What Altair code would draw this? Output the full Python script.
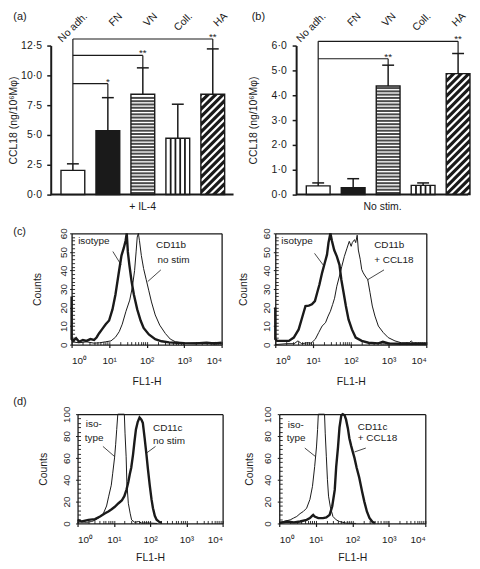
import altair as alt
import numpy as np
import pandas as pd

FONT = "Liberation Sans"
INK = "#1a1a1a"

# ---------------- panels (a) and (b): CCL18 (ng/10^6 Mphi) ----------------
categories = ["No adh.", "FN", "VN", "Coll.", "HA"]
a_mean = [2.03, 5.36, 8.42, 4.72, 8.42]
a_top = [2.58, 8.13, 10.63, 7.58, 12.22]      # top of error bar
b_mean = [0.35, 0.28, 4.37, 0.37, 4.87]
b_top = [0.47, 0.64, 5.21, 0.47, 5.68]
a_sig_to = [1, 2, 4]
a_sig_at = [9.3, 11.67, 13.05]
a_sig_txt = ["*", "**", "**"]
b_sig_to = [2, 4]
b_sig_at = [5.47, 6.17]
b_sig_txt = ["**", "**"]
a_ticks = [0, 2.5, 5, 7.5, 10, 12.5]
b_ticks = [0, 1, 2, 3, 4, 5, 6]

# ---------------- panels (c) and (d): flow cytometry histograms ----------------
# x = log10(FL1-H), y = counts
cL_iso_x = [0.0, 0.0, 0.04, 0.12, 0.2, 0.3, 0.4, 0.5, 0.6, 0.67, 0.73, 0.82, 0.91, 1.0, 1.09, 1.17, 1.26, 1.33,
            1.39, 1.44, 1.47, 1.50, 1.54, 1.60, 1.66, 1.75, 1.84, 1.92, 2.06, 2.23, 2.40, 2.6, 2.8, 3.0, 3.3,
            3.6, 3.8, 4.0]
cL_iso_y = [26, 3, 2, 3.5, 1.5, 2.5, 2, 3, 2.5, 4, 6, 8.5, 11, 13, 19, 27, 39, 48, 52, 56, 60, 50, 43, 34, 27,
            19, 13, 9, 5.5, 2.9, 1.8, 1.2, 1, 0.8, 0.7, 1, 0.6, 1]
cL_ab_x = [0.0, 0.2, 0.4, 0.6, 0.75, 0.9, 1.05, 1.17, 1.27, 1.35, 1.45, 1.55, 1.62, 1.68, 1.72, 1.75, 1.78,
           1.81, 1.86, 1.92, 1.99, 2.06, 2.13, 2.23, 2.35, 2.50, 2.63, 2.77, 3.0, 3.3, 3.6, 3.85, 4.0]
cL_ab_y = [1.5, 1, 1.5, 0.8, 1, 1.5, 2, 4, 7, 11, 18, 24, 31, 40, 50, 58, 60, 56, 48, 41, 35, 29, 23, 16, 10.5,
           6, 3, 1.5, 0.7, 1, 0.8, 1.2, 0.8]

cR_iso_x = [0.0, 0.0, 0.05, 0.19, 0.36, 0.49, 0.62, 0.71, 0.76, 0.80, 0.89, 0.97, 1.05, 1.11, 1.17, 1.24, 1.31,
            1.37, 1.41, 1.46, 1.50, 1.56, 1.63, 1.70, 1.75, 1.81, 1.87, 1.94, 2.03, 2.13, 2.29, 2.47, 2.73,
            2.85, 3.0, 3.34, 3.7, 4.0]
cR_iso_y = [20, 3, 2, 2, 2, 3.8, 8.2, 14.5, 18, 20.8, 21, 21.7, 23.5, 28, 32.4, 38.7, 44, 48.5, 55, 60, 56, 51,
            47.6, 43, 35, 28, 20.8, 13.6, 8.2, 3.8, 2, 1, 0.7, 1.5, 0.6, 0.5, 0.5, 0.5]
cR_ab_x = [0.0, 0.3, 0.5, 0.6, 0.7, 0.85, 0.95, 1.06, 1.15, 1.24, 1.33, 1.40, 1.46, 1.52, 1.57, 1.63, 1.70,
           1.76, 1.83, 1.90, 1.96, 2.01, 2.04, 2.10, 2.13, 2.17, 2.20, 2.25, 2.29, 2.33, 2.38, 2.45, 2.51,
           2.57, 2.64, 2.73, 2.86, 2.99, 3.17, 3.34, 3.55, 3.6, 3.65, 4.0]
cR_ab_y = [0, 0.5, 0.5, 2, 0.5, 1, 0.8, 2.9, 6.5, 10, 11.8, 15.4, 18, 21.7, 25, 31.5, 37, 42, 47.6, 52, 55.7,
           53, 55, 56.6, 55, 59, 51, 46, 40.5, 38.7, 37, 35, 28, 20.8, 15.4, 10, 6.5, 3.8, 2, 1, 1, 2, 1, 0.8]

dL_iso_x = [0.0, 0.12, 0.25, 0.39, 0.48, 0.58, 0.71, 0.80, 0.86, 0.93, 0.97, 1.02, 1.05, 1.08, 1.11, 1.29, 1.31,
            1.34, 1.36, 1.40, 1.45, 1.49, 1.58, 1.68, 1.77, 1.9, 2.2]
dL_iso_y = [1, 1.5, 1, 1.8, 3, 5, 9, 16, 25, 35, 46, 60, 72, 86, 100, 100, 82, 61, 37, 18.5, 9.4, 3.3, 1, 1.8,
            0.3, 0.5, 0]
dL_ab_x = [0.0, 0.12, 0.30, 0.48, 0.62, 0.76, 0.85, 0.94, 1.02, 1.13, 1.22, 1.29, 1.35, 1.40, 1.44, 1.48, 1.53,
           1.57, 1.61, 1.66, 1.71, 1.76, 1.80, 1.85, 1.90, 1.94, 1.99, 2.04, 2.08, 2.13, 2.18, 2.25, 2.32]
dL_ab_y = [3.3, 1.8, 3.3, 4, 6.4, 9.4, 11, 13, 15, 18.5, 21, 25, 31, 38, 45, 51, 63, 75, 86, 93, 97, 95, 92, 78,
           63, 50, 35, 22, 14, 7, 3.5, 1.5, 0.5]

dR_iso_x = [0.0, 0.12, 0.30, 0.39, 0.48, 0.57, 0.66, 0.75, 0.84, 0.91, 0.97, 1.02, 1.05, 1.07, 1.24, 1.26, 1.29,
            1.32, 1.35, 1.40, 1.47, 1.56, 1.65, 1.83, 2.1]
dR_iso_y = [1, 1.8, 3.3, 4.9, 6.4, 9, 11, 14, 22, 34, 52, 70, 86, 100, 100, 82, 61, 40, 25, 15, 6.4, 3.3, 1.8,
            0.3, 0]
dR_ab_x = [0.0, 0.21, 0.40, 0.57, 0.75, 0.84, 0.90, 0.93, 0.97, 1.07, 1.20, 1.29, 1.38, 1.45, 1.52, 1.56, 1.61,
           1.65, 1.70, 1.74, 1.79, 1.83, 1.88, 1.92, 1.97, 2.01, 2.06, 2.12, 2.19, 2.27, 2.33, 2.40, 2.47,
           2.55, 2.62]
dR_ab_y = [0.3, 1.8, 1, 1.8, 3.3, 4.9, 7, 7.9, 6.4, 4.9, 4.9, 5.5, 7.9, 15.5, 30.7, 52, 70, 88, 99, 100, 99, 95,
           87, 78, 71, 66, 60, 51, 42, 29, 20, 11, 5, 1.5, 0.3]

# annotation texts (label, log10 FL1-H, counts) and pointer lines
cL_notes = [("isotype", 0.175, 55.9), ("CD11b", 2.25, 53.7), ("no stim", 2.29, 45.6)]
cL_ptrs = [(1.10, 50.2, 1.32, 43.0), (2.38, 40.3, 2.03, 34.0)]
cR_notes = [("isotype", 0.158, 55.9), ("CD11b", 2.62, 53.7), ("+ CCL18", 2.62, 45.6)]
cR_ptrs = [(1.04, 49.2, 1.30, 42.1), (2.88, 40.3, 2.44, 34.9)]
dL_notes = [("iso-", 0.228, 90.9), ("type", 0.20, 78.1), ("CD11c", 2.08, 87.2), ("no stim", 2.08, 75.0)]
dL_ptrs = [(0.70, 70.5, 1.02, 61.3), (2.15, 70.5, 1.90, 64.4)]
dR_notes = [("iso-", 0.233, 90.2), ("type", 0.206, 78.1), ("CD11c", 2.15, 88.7), ("+ CCL18", 2.15, 78.1)]
dR_ptrs = [(0.70, 69.0, 0.99, 61.3), (2.37, 69.0, 2.06, 65.4)]

PITCH = 35.2   # px per category slot
HALF = 0.34    # bar half width (category units)
CAP = 0.17


def extent_rule(top, bottom):
    # invisible vertical rule that fixes the row's vertical extent for the layout
    return alt.Chart(pd.DataFrame({"z": [0]})).mark_rule(opacity=0, strokeWidth=0).encode(
        x=alt.value(0), y=alt.value(-top), y2=alt.value(bottom))


def bar_panel(mean, top, sig_to, sig_at, sig_txt, ticks, ymax, W, H, first_px, xtitle,
              plabel, plabel_dx, ytitle_pad, lab_pad, lab_dx, extent=None):
    x_lo = -first_px / PITCH
    x_hi = (W - first_px) / PITCH
    ppx = PITCH
    ppy = H / ymax
    xs = alt.Scale(domain=[x_lo, x_hi], nice=False, zero=False)
    ys = alt.Scale(domain=[0, ymax], nice=False)
    xax = alt.Axis(title=xtitle, labels=False, ticks=False, grid=False, domain=False,
                   minExtent=0, maxExtent=0, titlePadding=7, titleFontSize=10.5,
                   titleFontWeight="normal", titleColor=INK)
    yax = alt.Axis(title="CCL18 (ng/10⁶Mφ)", values=ticks,
                   labelExpr="replace(format(datum.value, '.1f'), '.', '·')",
                   grid=False, domainColor=INK, domainWidth=2, tickColor=INK, tickWidth=1.5, tickSize=4,
                   labelPadding=lab_pad, labelFontSize=10.5, labelColor=INK, minExtent=30, maxExtent=30,
                   titlePadding=ytitle_pad, titleFontSize=10.5, titleFontWeight="normal", titleColor=INK)

    def X(f):
        return alt.X(f, type="quantitative", scale=xs, axis=xax)

    def Y(f):
        return alt.Y(f, type="quantitative", scale=ys, axis=yax)

    n = len(categories)
    df = pd.DataFrame({"pos": list(range(n)), "cat": categories, "mean": mean, "top": top})
    df["left"] = df["pos"] - HALF
    df["right"] = df["pos"] + HALF
    df["base"] = 0.0
    df["cap1"] = df["pos"] - CAP
    df["cap2"] = df["pos"] + CAP

    fills = ["white", INK, "white", "white", INK]
    bars = alt.Chart(df).mark_rect(strokeWidth=0).encode(
        x=X("left"), x2="right", y=Y("base"), y2="mean",
        color=alt.Color("cat:N", scale=alt.Scale(domain=categories, range=fills), legend=None))

    k = categories.index("VN")
    hpx = mean[k] * ppy
    yy = np.arange(1.6, hpx - 0.8, 3.3) / ppy
    vn = pd.DataFrame({"y": yy, "l": k - HALF, "r": k + HALF})
    vn_l = alt.Chart(vn).mark_rule(color="#4a4a4a", strokeWidth=2).encode(x=X("l"), x2="r", y=Y("y"))

    k = categories.index("Coll.")
    wpx = 2 * HALF * ppx
    cx = [k - HALF + wpx * j / 5 / ppx for j in range(1, 5)]
    co = pd.DataFrame({"x": cx, "b": 0.0, "t": mean[k]})
    co_l = alt.Chart(co).mark_rule(color=INK, strokeWidth=1.8).encode(x=X("x"), y=Y("b"), y2="t")

    k = categories.index("HA")
    h = mean[k] * ppy
    p = 7.6
    segs = []
    c = -h + p / 2
    while c < wpx:
        x0 = max(0.0, c)
        x1 = min(wpx, h + c)
        if x1 > x0:
            segs.append((k - HALF + x0 / ppx, (x0 - c) / ppy, k - HALF + x1 / ppx, (x1 - c) / ppy))
        c += p
    ha = pd.DataFrame(segs, columns=["xa", "ya", "xb", "yb"])
    ha_l = alt.Chart(ha).mark_rule(color="white", strokeWidth=2.2).encode(
        x=X("xa"), x2="xb", y=Y("ya"), y2="yb")

    outline = alt.Chart(df).mark_rect(fillOpacity=0, stroke=INK, strokeWidth=1.4).encode(
        x=X("left"), x2="right", y=Y("base"), y2="mean")
    err = alt.Chart(df).mark_rule(color=INK, strokeWidth=1.5).encode(x=X("pos"), y=Y("mean"), y2="top")
    caps = alt.Chart(df).mark_rule(color=INK, strokeWidth=1.5).encode(x=X("cap1"), x2="cap2", y=Y("top"))

    bs = [(0, top[0], 0, max(sig_at))]
    for t, lv in zip(sig_to, sig_at):
        bs.append((0, lv, t, lv))
        bs.append((t, lv, t, top[t]))
    br = pd.DataFrame(bs, columns=["xa", "ya", "xb", "yb"])
    br_l = alt.Chart(br).mark_rule(color=INK, strokeWidth=1.2).encode(x=X("xa"), x2="xb", y=Y("ya"), y2="yb")
    st = pd.DataFrame({"x": sig_to, "y": sig_at, "s": sig_txt})
    st_l = alt.Chart(st).mark_text(fontSize=10, baseline="alphabetic", color=INK, yOffset=1).encode(
        x=X("x"), y=Y("y"), text="s:N")

    bl = pd.DataFrame({"xa": [x_lo], "xb": [x_hi], "y": [0.0]})
    base_line = alt.Chart(bl).mark_rule(color=INK, strokeWidth=2).encode(x=X("xa"), x2="xb", y=Y("y"))

    lab = alt.Chart(df).mark_text(angle=315, align="right", baseline="middle", fontSize=10.5, color=INK,
                                  xOffset=lab_dx).encode(x=X("pos"), y=alt.value(-31), text="cat:N")
    pl = alt.Chart(pd.DataFrame({"t": [plabel]})).mark_text(align="left", baseline="top", fontSize=11,
                                                           color=INK).encode(
        x=alt.value(plabel_dx), y=alt.value(-34.5), text="t:N")

    layers = [bars, vn_l, co_l, ha_l, outline, err, caps, br_l, st_l, base_line, lab, pl]
    if extent:
        layers.append(extent_rule(*extent))
    return alt.layer(*layers).properties(width=W, height=H)


def hist_panel(thick_x, thick_y, thin_x, thin_y, ymax, yvals, ystep, W, H, ylab_pad, ytitle_pad,
               xtitle_pad, notes, ptrs, plabel=None, plabel_xy=(0, 0), extent=None):
    xs = alt.Scale(domain=[0, 4], nice=False, zero=False)
    ys = alt.Scale(domain=[0, ymax], nice=False)
    xax = alt.Axis(orient="bottom", title="FL1-H", values=[0, 1, 2, 3, 4],
                   labelExpr="'10' + ['⁰','¹','²','³','⁴'][datum.value]",
                   grid=False, domain=True, domainColor=INK, domainWidth=1.3,
                   tickSize=3, tickColor=INK, tickWidth=1.2, labelPadding=8.5,
                   labelFontSize=10, labelColor=INK, minExtent=23, maxExtent=23, titlePadding=xtitle_pad,
                   titleFontSize=10.5, titleFontWeight="normal", titleColor=INK)
    yax = alt.Axis(orient="left", title="Counts", values=yvals, grid=False, domain=True, domainColor=INK,
                   domainWidth=1.3, tickSize=2, tickColor=INK,
                   labelAngle=270, labelAlign="center", labelBaseline="bottom", labelPadding=ylab_pad,
                   labelFontSize=10, labelColor=INK, minExtent=14, maxExtent=14, titlePadding=ytitle_pad,
                   titleFontSize=10.5, titleFontWeight="normal", titleColor=INK)
    # frame: top and right edges
    top_ax = alt.Axis(orient="top", title=None, labels=False, ticks=False, grid=False, domain=True,
                      domainColor=INK, domainWidth=1.3)
    right_ax = alt.Axis(orient="right", title=None, labels=False, ticks=False, grid=False, domain=True,
                        domainColor=INK, domainWidth=1.3)
    # inward tick marks (axes shifted into the plot by their tick length)
    minor_vals = [float(np.log10(m) + k) for k in range(4) for m in range(1, 10)] + [4.0]
    xin_ax = alt.Axis(orient="bottom", title=None, labels=False, domain=False, grid=False, values=minor_vals,
                      tickSize=3, tickColor=INK, tickWidth=0.9, offset=-3)
    yin_vals = [float(v) for v in np.arange(ystep, ymax, ystep)]
    yin_ax = alt.Axis(orient="left", title=None, labels=False, domain=False, grid=False, values=yin_vals,
                      tickSize=3, tickColor=INK, tickWidth=0.9, offset=-3)

    def X(f, ax=None):
        return alt.X(f, type="quantitative", scale=xs, axis=ax)

    def Y(f, ax=None):
        return alt.Y(f, type="quantitative", scale=ys, axis=ax)

    d_thin = pd.DataFrame({"lx": thin_x, "cnt": thin_y, "o": list(range(len(thin_x)))})
    d_thick = pd.DataFrame({"lx": thick_x, "cnt": thick_y, "o": list(range(len(thick_x)))})
    thin = alt.Chart(d_thin).mark_line(color=INK, strokeWidth=1.0).encode(
        x=X("lx", xax), y=Y("cnt", yax), order="o:Q")
    thick = alt.Chart(d_thick).mark_line(color=INK, strokeWidth=2.4).encode(
        x=X("lx"), y=Y("cnt"), order="o:Q")
    frame_l = alt.Chart(d_thin).mark_point(opacity=0).encode(x=X("lx", top_ax), y=Y("cnt", right_ax))
    xin_l = alt.Chart(d_thin).mark_point(opacity=0).encode(x=X("lx", xin_ax), y=Y("cnt", yin_ax))
    nd = pd.DataFrame(notes, columns=["s", "x", "y"])
    note_l = alt.Chart(nd).mark_text(align="left", baseline="middle", fontSize=10, color=INK).encode(
        x=X("x"), y=Y("y"), text="s:N")
    pdf = pd.DataFrame(ptrs, columns=["xa", "ya", "xb", "yb"])
    ptr_l = alt.Chart(pdf).mark_rule(color=INK, strokeWidth=0.8).encode(
        x=X("xa"), x2="xb", y=Y("ya"), y2="yb")
    layers = [thin, thick, frame_l, xin_l, note_l, ptr_l]
    if plabel:
        layers.append(alt.Chart(pd.DataFrame({"t": [plabel]})).mark_text(
            align="left", baseline="middle", fontSize=11, color=INK).encode(
            x=alt.value(plabel_xy[0]), y=alt.value(plabel_xy[1]), text="t:N"))
    if extent:
        layers.append(extent_rule(*extent))
    return alt.layer(*layers).resolve_axis(x="independent", y="independent").properties(width=W, height=H)


def spacer(w, h):
    return alt.Chart(pd.DataFrame({"z": [0]})).mark_rule(opacity=0, strokeWidth=0).encode(
        x=alt.value(0), x2=alt.value(0), y=alt.value(0), y2=alt.value(0)).properties(width=w, height=h)


# row 1: plots start at page x 51 and 298
pa = bar_panel(a_mean, a_top, a_sig_to, a_sig_at, a_sig_txt, a_ticks, 12.5, 184, 150, 22.3, "+ IL-4",
               "(a)", -37.7, 2.2, 5.3, 13, extent=(35.5, 168))
pb = bar_panel(b_mean, b_top, b_sig_to, b_sig_at, b_sig_txt, b_ticks, 6.0, 173, 150, 22.2, "No stim.",
               "(b)", -44.7, 7.8, 6, 6)
# row 2: frames at page x 72 and 277
pcl = hist_panel(cL_iso_x, cL_iso_y, cL_ab_x, cL_ab_y, 60, [0, 10, 20, 30, 40, 50, 60], 2, 151, 112,
                 1.2, 15.5, 8.7, cL_notes, cL_ptrs, "(c)", (-58.7, -1.4), extent=(21, 158))
pcr = hist_panel(cR_iso_x, cR_iso_y, cR_ab_x, cR_ab_y, 60, [0, 10, 20, 30, 40, 50, 60], 2, 152, 112,
                 1.8, 12.8, 8.7, cR_notes, cR_ptrs)
# row 3: frames at page x 78 and 281
pdl = hist_panel(dL_ab_x, dL_ab_y, dL_iso_x, dL_iso_y, 100, [0, 20, 40, 60, 80, 100], 4, 146, 110,
                 3.8, 14.9, 6.1, dL_notes, dL_ptrs, "(d)", (-64.7, -12.6), extent=(24, 150))
pdr = hist_panel(dR_ab_x, dR_ab_y, dR_iso_x, dR_iso_y, 100, [0, 20, 40, 60, 80, 100], 4, 147, 110,
                 5.2, 11.2, 6.1, dR_notes, dR_ptrs)

row1 = alt.hconcat(pa, spacer(63, 10), pb, spacing=0, bounds="flush")
row2 = alt.hconcat(spacer(21, 10), pcl, spacer(54, 10), pcr, spacing=0, bounds="flush")
row3 = alt.hconcat(spacer(27, 10), pdl, spacer(57, 10), pdr, spacing=0, bounds="flush")

chart = alt.vconcat(row1, row2, row3, spacing=0, padding=0).configure(font=FONT).configure_view(
    stroke="transparent", strokeWidth=0)

chart.save("out.html", embed_options={"renderer": "svg", "actions": False})
